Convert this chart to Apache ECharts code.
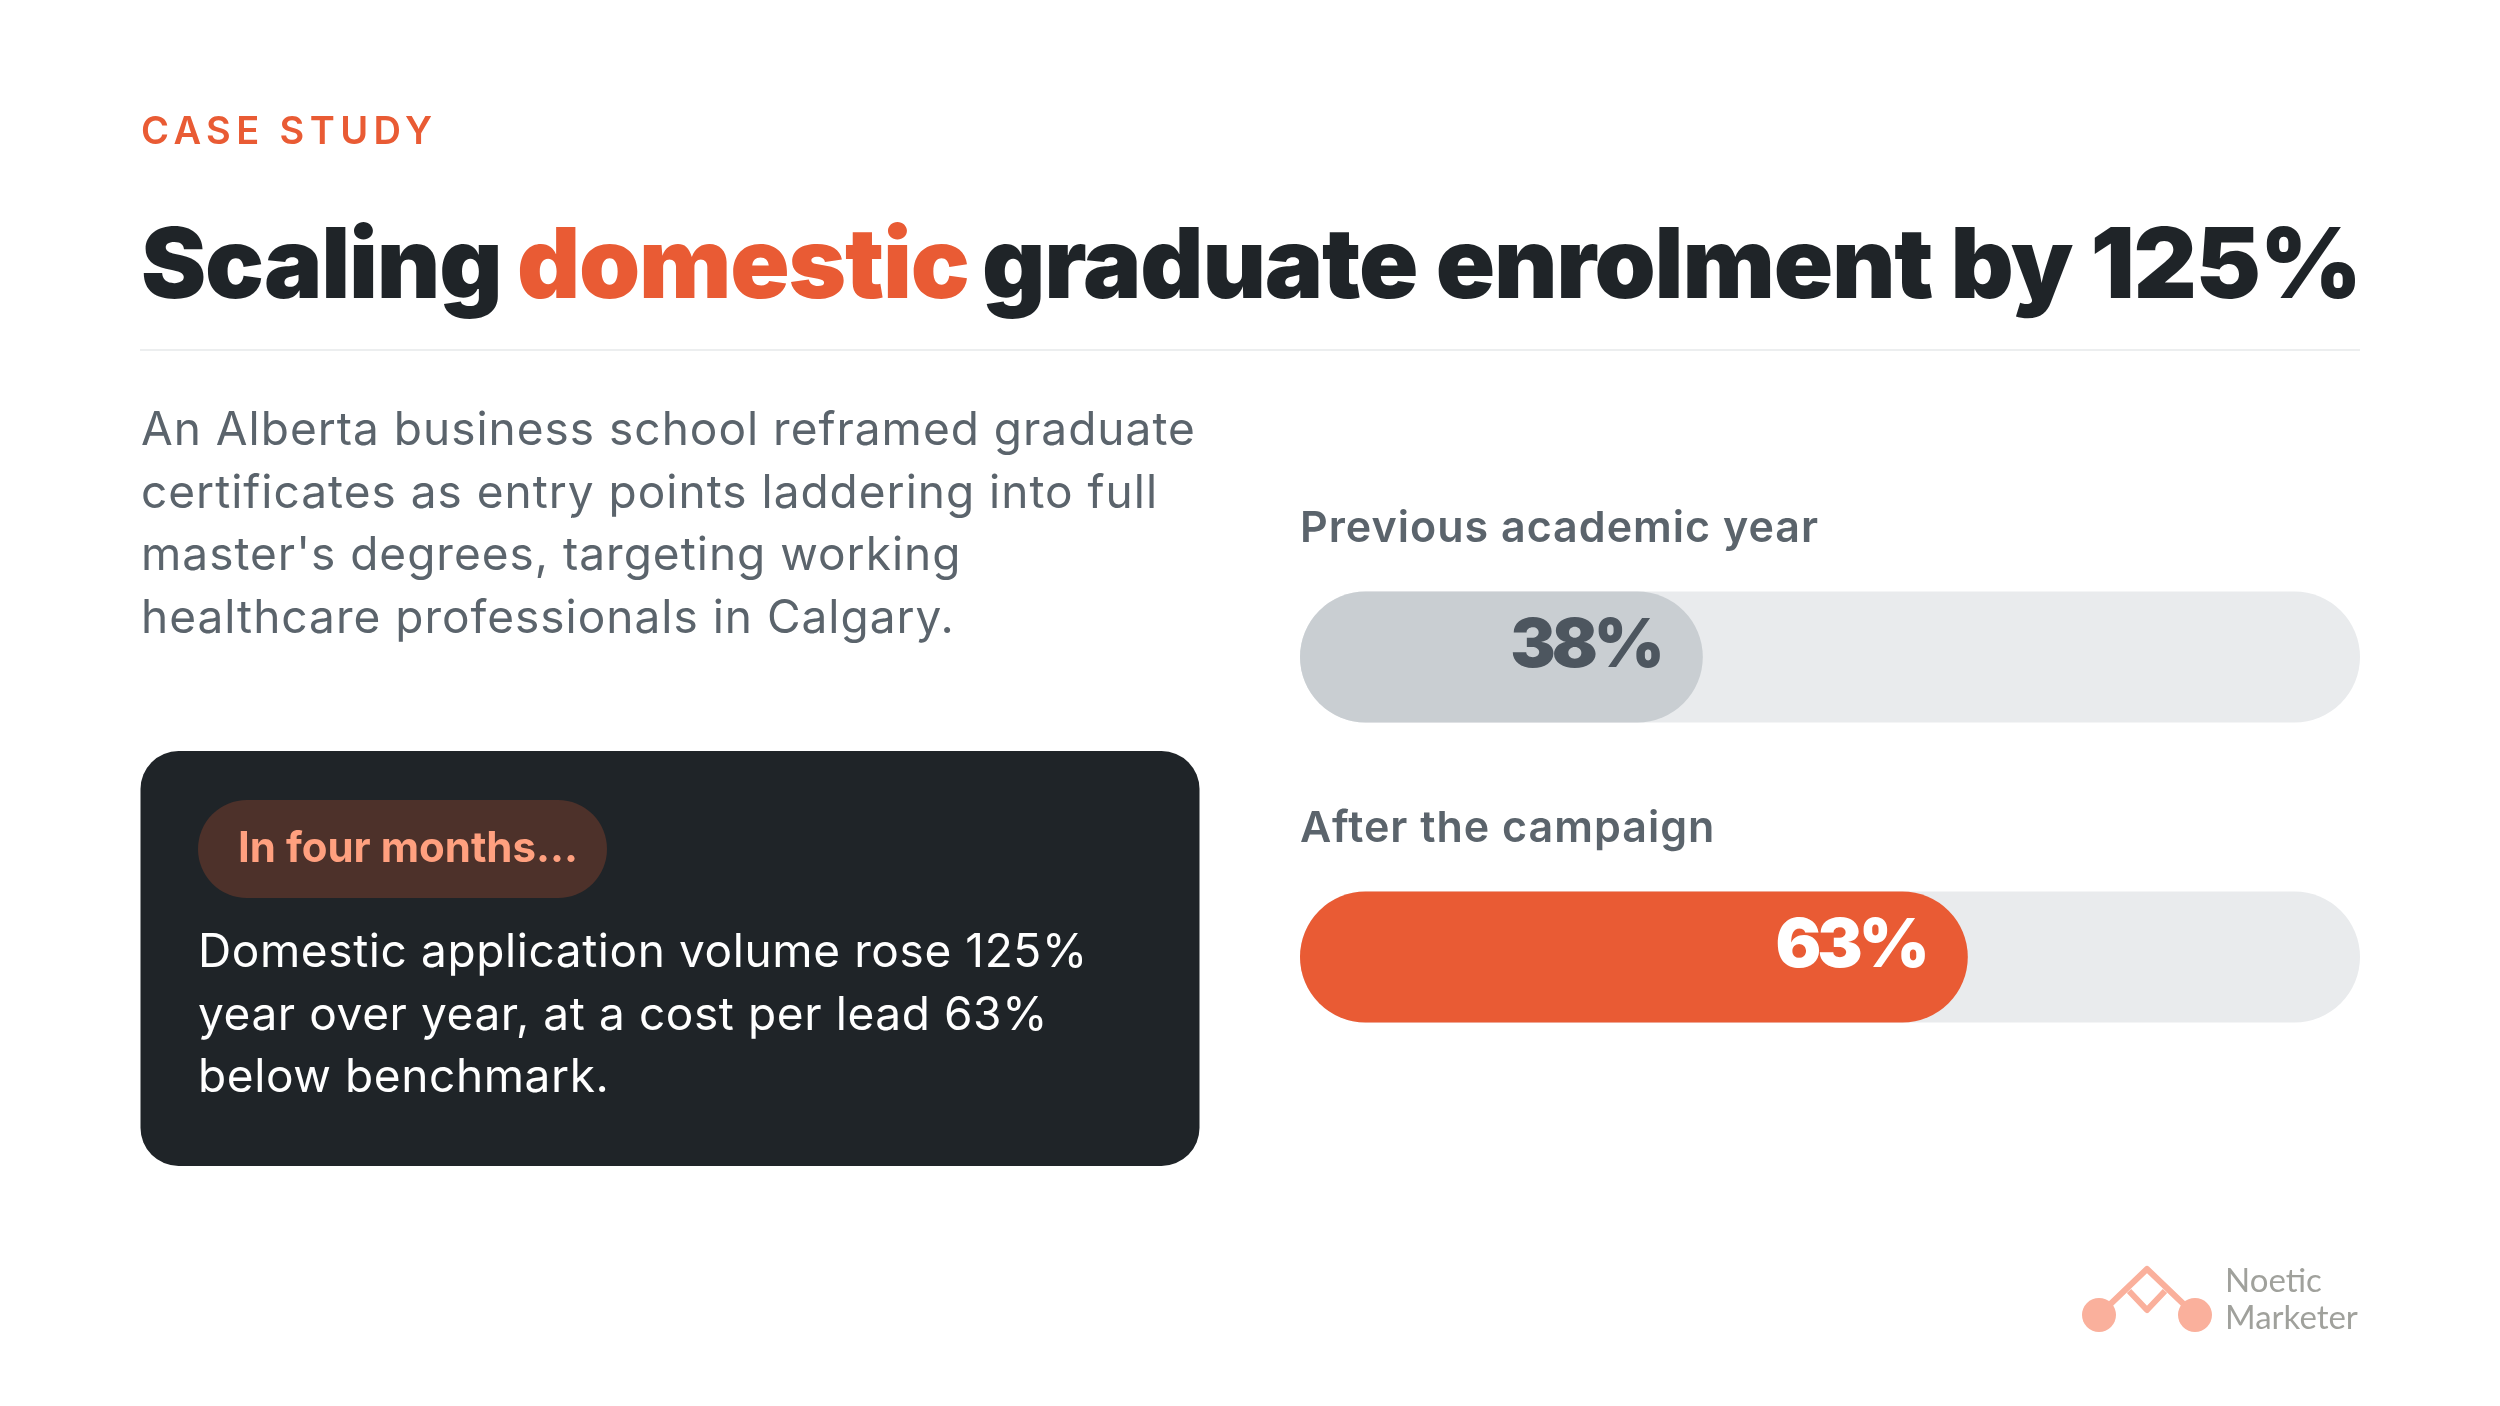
<!DOCTYPE html>
<html><head><meta charset="utf-8">
<style>html,body{margin:0;padding:0;background:#fff}#c{width:2500px;height:1406px}</style>
<script src="https://cdn.jsdelivr.net/npm/echarts@6/dist/echarts.min.js"></script>
</head><body><div id="c"></div>
<script>
const categories = ['Previous academic year', 'After the campaign'];
const shares = [38, 63];
const fullScale = [100, 100];
const eyebrow = 'CASE STUDY';
const titleParts = ['Scaling', 'domestic', 'graduate enrolment by 125%'];
const introLines = ['An Alberta business school reframed graduate','certificates as entry points laddering into full',"master's degrees, targeting working",'healthcare professionals in Calgary.'];
const badge = 'In four months...';
const cardLines = ['Domestic application volume rose 125%','year over year, at a cost per lead 63%','below benchmark.'];
const brand = ['Noetic', 'Marketer'];

const INK='#1f2428', ORANGE='#e95b34', FONT='Inter', TXT='#5b646c', LOGO='#fab09c', BRAND='#a0a19c';
const shape=(type,s,style)=>({type,silent:true,shape:s,style});
const word=(x,y,text,size,weight,fill,family)=>({type:'text',x,y,silent:true,
  style:{text,fontFamily:family||FONT,fontSize:size,fontWeight:weight,fill,verticalAlign:'middle'}});
const graphicEls=[
  shape('rect',{x:140,y:349,width:2220,height:2},{fill:'#eceeef'}),
  shape('rect',{x:140.5,y:751,width:1059,height:415,r:38},{fill:INK}),
  shape('rect',{x:198,y:800,width:409,height:98,r:49},{fill:'#4d312a'}),
  word(238,849,badge,42,700,'#ffa07f'),
  shape('polyline',{points:[[2099,1315],[2147,1269],[2195,1315]]},{stroke:LOGO,lineWidth:6,fill:null,lineJoin:'round'}),
  shape('polyline',{points:[[2129,1291],[2147,1310],[2165,1291]]},{stroke:LOGO,lineWidth:6,fill:null,lineJoin:'round'}),
  shape('circle',{cx:2099,cy:1315,r:17},{fill:LOGO}),
  shape('circle',{cx:2195,cy:1315,r:17},{fill:LOGO}),
  word(2225,1281,brand[0],33,400,BRAND,'Lato'),
  word(2225,1318,brand[1],33,400,BRAND,'Lato')
];
const head=(left,top,text,size,weight,color,lineHeight,zlevel)=>({left,top,text,padding:0,zlevel,
  textStyle:{fontFamily:FONT,fontSize:size,fontWeight:weight,color,lineHeight}});

const chart=echarts.init(document.getElementById('c'),null,{width:2500,height:1406});
chart.setOption({
  animation:false,
  title:[
    head(141,113,eyebrow,38,600,ORANGE,40,1),
    head(141,219,titleParts[0],98,900,INK,100,2),
    head(517,219,titleParts[1],98,900,ORANGE,100,2),
    head(982,219,titleParts[2],98,900,INK,100,2),
    head(141,400,introLines.join('\n'),46,400,TXT,62.6,3),
    head(198,922,cardLines.join('\n'),46,400,'#ffffff',62.6,5)
  ],
  grid:{left:1300,top:507,width:1060,height:600},
  xAxis:{type:'value',min:0,max:100,show:false},
  yAxis:{type:'category',inverse:true,data:categories,show:false},
  graphic:{elements:graphicEls},
  series:[
   {type:'bar',zlevel:3,barWidth:131,barGap:'-100%',silent:true,data:fullScale,
    itemStyle:{color:'#e9ebed',borderRadius:65.5},
    label:{show:true,position:[0,-84],formatter:p=>p.name,fontFamily:FONT,fontSize:43,fontWeight:600,color:TXT}},
   {type:'bar',zlevel:4,barWidth:131,barGap:'-100%',silent:true,
    data:shares.map((v,i)=>({value:v,itemStyle:{color:i?ORANGE:'#c9ced2'},label:{color:i?'#ffffff':'#4d565f'}})),
    itemStyle:{borderRadius:65.5},
    label:{show:true,position:'insideRight',distance:42,offset:[0,-10],formatter:'{c}%',fontFamily:FONT,fontSize:68,fontWeight:900}}
  ]
});
const zr=chart.getZr();
// Canvas letter spacing per layer: the browser drops it whenever the font is set, so re-apply before each draw.
const spacing={1:'5.4px',2:'-1.2px',3:'1px',4:'-4px',5:'0.6px'};
Object.keys(spacing).forEach(z=>{
  const ctx=zr.painter.getLayer(+z).ctx, draw=ctx.fillText;
  ctx.fillText=function(...a){ctx.letterSpacing='0px';ctx.letterSpacing=spacing[z];return draw.apply(ctx,a);};
});
zr.painter.refresh(true);
</script></body></html>
